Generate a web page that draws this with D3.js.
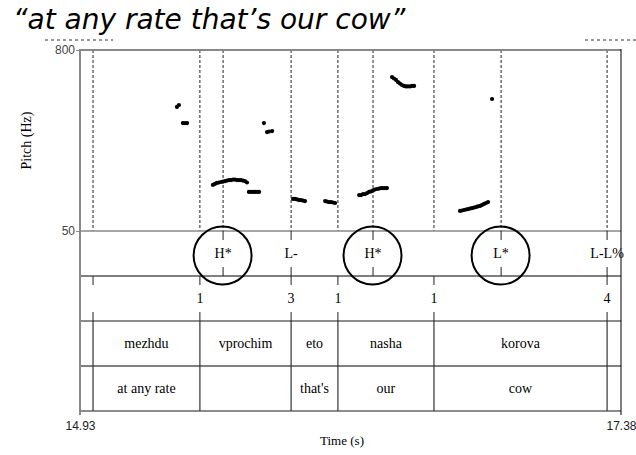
<!DOCTYPE html>
<html>
<head>
<meta charset="utf-8">
<script src="https://cdn.jsdelivr.net/npm/d3@7"></script>
<style>
  body { margin: 0; background: #fff; }
  svg { display: block; }
</style>
</head>
<body>
<div id="chart"></div>
<script>
// pitch track, one array per voiced stretch: [time (s), pitch (Hz)]
const pitchSegments = [
  [[15.369, 564], [15.378, 572]],
  [[15.396, 497], [15.406, 497], [15.415, 497]],
  [[15.532, 241], [15.541, 245], [15.550, 249], [15.559, 251], [15.569, 253], [15.578, 255],
   [15.587, 257], [15.596, 259], [15.605, 261], [15.614, 261], [15.623, 263], [15.632, 263],
   [15.641, 261], [15.650, 261], [15.659, 261], [15.668, 259], [15.677, 257], [15.686, 251]],
  [[15.695, 212], [15.704, 212], [15.714, 212], [15.723, 212], [15.732, 212], [15.741, 212]],
  [[15.763, 497]],
  [[15.777, 460], [15.786, 462], [15.800, 464]],
  [[15.895, 183], [15.904, 183], [15.913, 181], [15.922, 178], [15.931, 178], [15.940, 176], [15.949, 174]],
  [[16.040, 174], [16.049, 172], [16.058, 170], [16.067, 170], [16.076, 168], [16.085, 166]],
  [[16.194, 199], [16.203, 199], [16.212, 203], [16.221, 203], [16.230, 207], [16.239, 212],
   [16.248, 214], [16.257, 218], [16.266, 222], [16.275, 224], [16.284, 226], [16.293, 228],
   [16.302, 228], [16.311, 228], [16.320, 228]],
  [[16.343, 688], [16.352, 682], [16.361, 676], [16.370, 667], [16.379, 661], [16.388, 655],
   [16.397, 651], [16.406, 649], [16.415, 649], [16.425, 649], [16.434, 651], [16.443, 651]],
  [[16.651, 133], [16.660, 135], [16.669, 137], [16.678, 139], [16.687, 141], [16.696, 143],
   [16.705, 145], [16.714, 147], [16.723, 149], [16.732, 152], [16.742, 154], [16.751, 158],
   [16.760, 162], [16.769, 166], [16.778, 170]],
  [[16.796, 597]]
];

// ToBI tiers
const toneTimes = [15.578, 15.886, 16.257, 16.837, 17.317];
const toneLabels = ["H*", "L-", "H*", "L*", "L-L%"];
const toneCircled = [true, false, true, true, false];

const breakTimes = [14.989, 15.473, 15.886, 16.098, 16.533, 17.317];
const breakLabels = ["", "1", "3", "1", "1", "4"];

const words = ["mezhdu", "vprochim", "eto", "nasha", "korova"];
const glosses = ["at any rate", "", "that's", "our", "cow"];

const timeDomain = [14.93, 17.38];
const pitchDomain = [50, 800];

const w = 636, h = 455;
const left = 80, right = 621;
const pitchTop = 50, pitchBottom = 231;
const toneBottom = 276, breakBottom = 321, wordBottom = 366, glossBottom = 411;

const svg = d3.select("#chart").append("svg")
  .attr("width", w).attr("height", h);

const x = d3.scaleLinear().domain(timeDomain).range([left, right]);
const y = d3.scaleLinear().domain(pitchDomain).range([pitchBottom, pitchTop]);

const serif = "'Liberation Serif', 'Times New Roman', serif";
const sans = "'Liberation Sans', Arial, sans-serif";

// title
svg.append("text")
  .attr("x", 13).attr("y", 29)
  .attr("font-family", "'DejaVu Sans', sans-serif")
  .attr("font-style", "italic")
  .attr("font-size", 28)
  .attr("fill", "#000")
  .text("\u201Cat any rate that\u2019s our cow\u201D");

// faint clipped bits above the frame
svg.append("line").attr("x1", 45).attr("x2", 113).attr("y1", 40).attr("y2", 40)
  .attr("stroke", "#333").attr("stroke-dasharray", "3,3");
svg.append("line").attr("x1", 585).attr("x2", 636).attr("y1", 40).attr("y2", 40)
  .attr("stroke", "#333").attr("stroke-dasharray", "3,3");

// dashed boundary lines in the pitch panel
const allTimes = Array.from(new Set(toneTimes.concat(breakTimes))).sort(d3.ascending);
svg.append("g").selectAll("line").data(allTimes).enter().append("line")
  .attr("x1", d => x(d)).attr("x2", d => x(d))
  .attr("y1", pitchTop).attr("y2", pitchBottom)
  .attr("stroke", "#222").attr("stroke-width", 1)
  .attr("stroke-dasharray", "3,2");

// pitch points
const pts = pitchSegments.flat();
svg.append("g").selectAll("circle").data(pts).enter().append("circle")
  .attr("cx", d => x(d[0])).attr("cy", d => y(d[1]))
  .attr("r", 2.1).attr("fill", "#000");

// y axis
const yAxis = d3.axisLeft(y).tickValues(pitchDomain).tickSize(4).tickPadding(1)
  .tickFormat(d3.format("d"));
const yAxisG = svg.append("g").attr("transform", `translate(${left},0)`).call(yAxis);
yAxisG.select(".domain").remove();
yAxisG.selectAll("line").attr("stroke", "#888");
yAxisG.selectAll("text").attr("font-family", sans).attr("font-size", 12).attr("fill", "#444");

svg.append("text")
  .attr("transform", `translate(31,${(pitchTop + pitchBottom) / 2}) rotate(-90)`)
  .attr("text-anchor", "middle")
  .attr("font-family", serif).attr("font-size", 14)
  .text("Pitch (Hz)");

// horizontal rules
const rules = [
  { y: pitchTop, c: "#888", sw: 2 },
  { y: pitchBottom, c: "#888", sw: 1.5 },
  { y: toneBottom, c: "#000", sw: 1 },
  { y: breakBottom, c: "#666", sw: 1.5 },
  { y: wordBottom, c: "#000", sw: 1 },
  { y: glossBottom, c: "#666", sw: 1.5 }
];
svg.append("g").selectAll("line").data(rules).enter().append("line")
  .attr("x1", left).attr("x2", right)
  .attr("y1", d => d.y).attr("y2", d => d.y)
  .attr("stroke", d => d.c).attr("stroke-width", d => d.sw);

// frame sides
svg.append("line").attr("x1", left).attr("x2", left).attr("y1", pitchTop - 1).attr("y2", glossBottom + 4)
  .attr("stroke", "#888").attr("stroke-width", 2);
svg.append("line").attr("x1", right).attr("x2", right).attr("y1", pitchTop - 1).attr("y2", glossBottom + 4)
  .attr("stroke", "#000").attr("stroke-width", 1);

// tone tier
const toneG = svg.append("g");
toneTimes.forEach((t, i) => {
  toneG.append("line").attr("x1", x(t)).attr("x2", x(t)).attr("y1", pitchBottom).attr("y2", pitchBottom + 9)
    .attr("stroke", "#222");
  toneG.append("line").attr("x1", x(t)).attr("x2", x(t)).attr("y1", toneBottom - 9).attr("y2", toneBottom)
    .attr("stroke", "#222");
  toneG.append("text")
    .attr("x", x(t)).attr("y", (pitchBottom + toneBottom) / 2 + 4.5)
    .attr("text-anchor", "middle")
    .attr("font-family", serif).attr("font-size", 14)
    .text(toneLabels[i]);
  if (toneCircled[i]) {
    toneG.append("circle")
      .attr("cx", x(t) - 0.5).attr("cy", (pitchBottom + toneBottom) / 2 + 2)
      .attr("r", 29).attr("fill", "none")
      .attr("stroke", "#000").attr("stroke-width", 2);
  }
});

// break index tier
const breakG = svg.append("g");
breakTimes.forEach((t, i) => {
  breakG.append("line").attr("x1", x(t)).attr("x2", x(t)).attr("y1", toneBottom).attr("y2", toneBottom + 9)
    .attr("stroke", "#222");
  breakG.append("line").attr("x1", x(t)).attr("x2", x(t)).attr("y1", breakBottom - 9).attr("y2", breakBottom)
    .attr("stroke", "#222");
  breakG.append("text")
    .attr("x", x(t)).attr("y", (toneBottom + breakBottom) / 2 + 4.5)
    .attr("text-anchor", "middle")
    .attr("font-family", serif).attr("font-size", 14)
    .text(breakLabels[i]);
});

// word and gloss tiers: boundaries at the break positions
svg.append("g").selectAll("line").data(breakTimes).enter().append("line")
  .attr("x1", d => x(d)).attr("x2", d => x(d))
  .attr("y1", breakBottom).attr("y2", glossBottom)
  .attr("stroke", "#333").attr("stroke-width", 1.2);

const intervals = d3.pairs(breakTimes);
function tierText(labels, y0, y1) {
  svg.append("g").selectAll("text").data(intervals).enter().append("text")
    .attr("x", d => x((d[0] + d[1]) / 2)).attr("y", (y0 + y1) / 2 + 4.5)
    .attr("text-anchor", "middle")
    .attr("font-family", serif).attr("font-size", 14)
    .text((d, i) => labels[i]);
}
tierText(words, breakBottom, wordBottom);
tierText(glosses, wordBottom, glossBottom);

// time axis ends
const xAxis = d3.axisBottom(x).tickValues(timeDomain).tickSize(0).tickPadding(10)
  .tickFormat(d3.format(".2f"));
const xAxisG = svg.append("g").attr("transform", `translate(0,${glossBottom})`).call(xAxis);
xAxisG.select(".domain").remove();
xAxisG.selectAll("text").attr("font-family", sans).attr("font-size", 12).attr("fill", "#222");

svg.append("text")
  .attr("x", 342).attr("y", 445)
  .attr("text-anchor", "middle")
  .attr("font-family", serif).attr("font-size", 13)
  .text("Time (s)");
</script>
</body>
</html>
